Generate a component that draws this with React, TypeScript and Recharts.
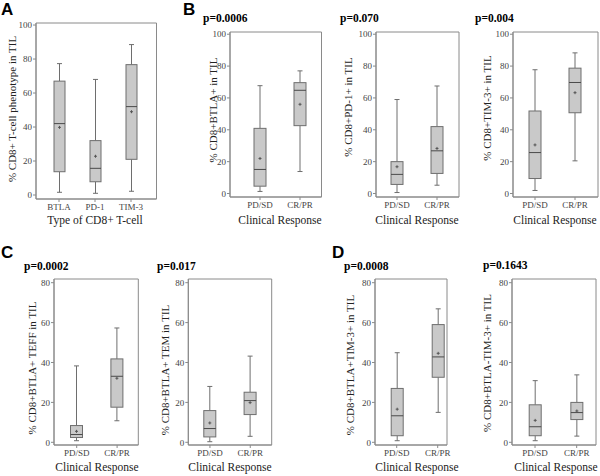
import React from 'react';
import { ComposedChart, Bar, XAxis, YAxis, CartesianGrid } from 'recharts';

// each box: [min, q1, median, q3, max, mean]
const phenotypes = ['BTLA', 'PD-1', 'TIM-3'];
const phenotypeStats = [
  [1.6, 13.7, 42, 67, 77.3, 39.8],
  [1, 7.8, 15.7, 32, 68, 22.8],
  [2.2, 21, 52, 76.7, 88.5, 49],
];

const responses = ['PD/SD', 'CR/PR'];
const btlaStats = [
  [1.3, 4.6, 15.1, 40.9, 67.7, 22],
  [13.8, 42.6, 64.8, 69.6, 77, 56],
];
const pd1Stats = [
  [0.6, 5.7, 12, 20, 59, 16.8],
  [5.2, 12.6, 26.8, 42, 67.5, 28.3],
];
const tim3Stats = [
  [1.9, 9.4, 25.7, 51.8, 77.7, 30.5],
  [20.5, 50.7, 69.7, 78.7, 88.3, 63.3],
];
const teffStats = [
  [0.8, 2.4, 3.9, 8.4, 38.3, 5.5],
  [10.8, 17.6, 33.1, 41.8, 57.3, 32.1],
];
const temStats = [
  [0.3, 2.7, 6.9, 15.9, 28, 9.7],
  [3, 13.9, 20.9, 25.1, 43.2, 19.9],
];
const btlaTim3Stats = [
  [0.8, 3.3, 13.3, 27, 44.9, 16.6],
  [15, 32.6, 42.8, 59, 66.9, 44.6],
];
const btlaNegTim3Stats = [
  [0.8, 3.3, 7.8, 18.8, 30.9, 11],
  [3.1, 11.4, 14.9, 20, 33.8, 15.7],
];

const ticks100 = [0, 20, 40, 60, 80, 100];
const ticks80 = [0, 20, 40, 60, 80];

const serif = '"Liberation Serif", "Times New Roman", serif';
const sans = '"Liberation Sans", Arial, sans-serif';
const frameColor = '#8a8a8a';
const boxStroke = '#6e6e6e';

const toRows = (cats: string[], stats: number[][]) =>
  cats.map((name, i) => {
    const [min, q1, median, q3, max, mean] = stats[i];
    return { name, min, q1, median, q3, max, mean };
  });

const BoxShape = (props: any) => {
  const { x, y, width, height, payload } = props;
  if (!payload) return null;
  const top = Math.min(y, y + height);
  const bottom = Math.max(y, y + height);
  const k = (bottom - top) / (payload.max - payload.min);
  const py = (v: number) => bottom - (v - payload.min) * k;
  const cx = x + width / 2;
  const cap = 2.5;
  return (
    <g>
      <line x1={cx} x2={cx} y1={py(payload.max)} y2={py(payload.q3)} stroke={boxStroke} />
      <line x1={cx} x2={cx} y1={py(payload.q1)} y2={py(payload.min)} stroke={boxStroke} />
      <line x1={cx - cap} x2={cx + cap} y1={py(payload.max)} y2={py(payload.max)} stroke={boxStroke} />
      <line x1={cx - cap} x2={cx + cap} y1={py(payload.min)} y2={py(payload.min)} stroke={boxStroke} />
      <rect
        x={x}
        y={py(payload.q3)}
        width={width}
        height={py(payload.q1) - py(payload.q3)}
        fill="#c9c9c9"
        stroke={boxStroke}
      />
      <line x1={x} x2={x + width} y1={py(payload.median)} y2={py(payload.median)} stroke="#4a4a4a" />
      <line x1={cx - 1.5} x2={cx + 1.5} y1={py(payload.mean)} y2={py(payload.mean)} stroke="#555" />
      <line x1={cx} x2={cx} y1={py(payload.mean) - 1.5} y2={py(payload.mean) + 1.5} stroke="#555" />
    </g>
  );
};

const row1 = { T: 32, B: 197, lo: -2.2, hi: 101.4, ticks: ticks100, xTitleY: 223.5 };
const row2 = { T: 279, B: 445, lo: -1.35, hi: 81.85, ticks: ticks80, xTitleY: 471 };

const panels = [
  {
    id: 'a', cats: phenotypes, stats: phenotypeStats, L: 36, R: 156.5, T: 23, B: 199, lo: -2.35, hi: 101.2,
    ticks: ticks100, pad: { left: 5, right: 7.5 }, bar: 11, xTitleY: 223.5, xTitleX: 95,
    yTitle: '% CD8+ T-cell phenotype in TIL', yTitleX: 12, yTitleY: 109, xTitle: 'Type of CD8+ T-cell',
  },
  {
    id: 'b1', cats: responses, stats: btlaStats, L: 230, R: 321.5, ...row1, pad: { left: 10, right: 1.5 }, bar: 12,
    xTitleX: 280, yTitle: '% CD8+BTLA+ in TIL', yTitleX: 213, yTitleY: 110, xTitle: 'Clinical Response',
  },
  {
    id: 'b2', cats: responses, stats: pd1Stats, L: 376, R: 459, ...row1, pad: { left: 1, right: 2 }, bar: 12,
    xTitleX: 417, yTitle: '% CD8+PD-1+ in TIL', yTitleX: 348, yTitleY: 107, xTitle: 'Clinical Response',
  },
  {
    id: 'b3', cats: responses, stats: tim3Stats, L: 513, R: 598, ...row1, pad: { left: 2, right: 3 }, bar: 12,
    xTitleX: 555, yTitle: '% CD8+TIM-3+ in TIL', yTitleX: 487, yTitleY: 108, xTitle: 'Clinical Response',
  },
  {
    id: 'c1', cats: responses, stats: teffStats, L: 54, R: 138.3, ...row2, pad: { left: 2.5, right: 1 }, bar: 12,
    xTitleX: 97, yTitle: '% CD8+BTLA+ TEFF in TIL', yTitleX: 32, yTitleY: 368, xTitle: 'Clinical Response',
  },
  {
    id: 'c2', cats: responses, stats: temStats, L: 188.3, R: 271.7, ...row2, pad: { left: 1.5, right: 1.3 }, bar: 12,
    xTitleX: 230, yTitle: '% CD8+BTLA+ TEM in TIL', yTitleX: 165, yTitleY: 370, xTitle: 'Clinical Response',
  },
  {
    id: 'd1', cats: responses, stats: btlaTim3Stats, L: 375, R: 447, ...row2, pad: { left: 1.2, right: -11.2 }, bar: 12,
    xTitleX: 417, yTitle: '% CD8+BTLA+TIM-3+ in TIL', yTitleX: 350, yTitleY: 365, xTitle: 'Clinical Response',
  },
  {
    id: 'd2', cats: responses, stats: btlaNegTim3Stats, L: 512, R: 596, ...row2, pad: { left: 2.2, right: -1.5 }, bar: 12,
    xTitleX: 556, yTitle: '% CD8+BTLA-TIM-3+ in TIL', yTitleX: 487, yTitleY: 363, xTitle: 'Clinical Response',
  },
];

const pValues = [
  { text: 'p=0.0006', x: 203, y: 22 },
  { text: 'p=0.070', x: 340, y: 22 },
  { text: 'p=0.004', x: 475, y: 22 },
  { text: 'p=0.0002', x: 24, y: 270 },
  { text: 'p=0.017', x: 157, y: 270 },
  { text: 'p=0.0008', x: 344, y: 269.5 },
  { text: 'p=0.1643', x: 483, y: 269 },
];

const letters = [
  { text: 'A', x: 1, y: 15 },
  { text: 'B', x: 183, y: 15 },
  { text: 'C', x: 1, y: 258 },
  { text: 'D', x: 332, y: 258 },
];

const W = 600;
const H = 476;
const Y_AXIS_W = 30;
const X_AXIS_H = 30;

// frame lines on the edges of the plot area
const frameRows = (props: any) => {
  const o = props.offset;
  return [o.top, o.top + o.height];
};
const frameCols = (props: any) => {
  const o = props.offset;
  return [o.left, o.left + o.width];
};

const Panel = ({ p }: { p: any }) => {
  const rows = toRows(p.cats, p.stats);
  const tickStyle = { fontSize: 9, fill: '#444', fontFamily: serif };
  return (
    <div style={{ position: 'absolute', left: 0, top: 0 }}>
      <ComposedChart
        width={W}
        height={H}
        data={rows}
        margin={{ top: p.T, left: p.L - Y_AXIS_W, right: W - p.R, bottom: H - p.B - X_AXIS_H }}
      >
        <CartesianGrid
          stroke={frameColor}
          horizontalCoordinatesGenerator={frameRows}
          verticalCoordinatesGenerator={frameCols}
        />
        <XAxis
          dataKey="name"
          type="category"
          padding={p.pad}
          height={X_AXIS_H}
          interval={0}
          tickSize={3}
          tickMargin={2}
          tick={tickStyle}
          axisLine={{ stroke: frameColor }}
          tickLine={{ stroke: frameColor }}
        />
        <YAxis
          type="number"
          domain={[p.lo, p.hi]}
          ticks={p.ticks}
          allowDataOverflow
          width={Y_AXIS_W}
          tickSize={3}
          tickMargin={1}
          tick={tickStyle}
          axisLine={{ stroke: frameColor }}
          tickLine={{ stroke: frameColor }}
        />
        <Bar
          dataKey={(d: any) => [d.min, d.max]}
          barSize={p.bar}
          shape={BoxShape}
          isAnimationActive={false}
        />
      </ComposedChart>
    </div>
  );
};

export default function App() {
  return (
    <div style={{ position: 'absolute', left: 0, top: 0, width: W, height: H, background: '#fff', overflow: 'hidden' }}>
      {panels.map((p) => (
        <Panel key={p.id} p={p} />
      ))}
      <svg
        width={W}
        height={H}
        style={{ position: 'absolute', left: 0, top: 0, pointerEvents: 'none' }}
      >
        {letters.map((l) => (
          <text key={l.text} x={l.x} y={l.y} fontFamily={sans} fontWeight="bold" fontSize={17} fill="#000">
            {l.text}
          </text>
        ))}
        {pValues.map((v) => (
          <text key={v.text} x={v.x} y={v.y} fontFamily={serif} fontWeight="bold" fontSize={11.5} fill="#000">
            {v.text}
          </text>
        ))}
        {panels.map((p) => (
          <g key={p.id}>
            <text
              x={p.xTitleX}
              y={p.xTitleY}
              textAnchor="middle"
              fontFamily={serif}
              fontSize={11.5}
              fill="#222"
            >
              {p.xTitle}
            </text>
            <text
              x={p.yTitleX}
              y={p.yTitleY}
              textAnchor="middle"
              dominantBaseline="central"
              transform={`rotate(-90, ${p.yTitleX}, ${p.yTitleY})`}
              fontFamily={serif}
              fontSize={11}
              fill="#222"
            >
              {p.yTitle}
            </text>
          </g>
        ))}
      </svg>
    </div>
  );
}
